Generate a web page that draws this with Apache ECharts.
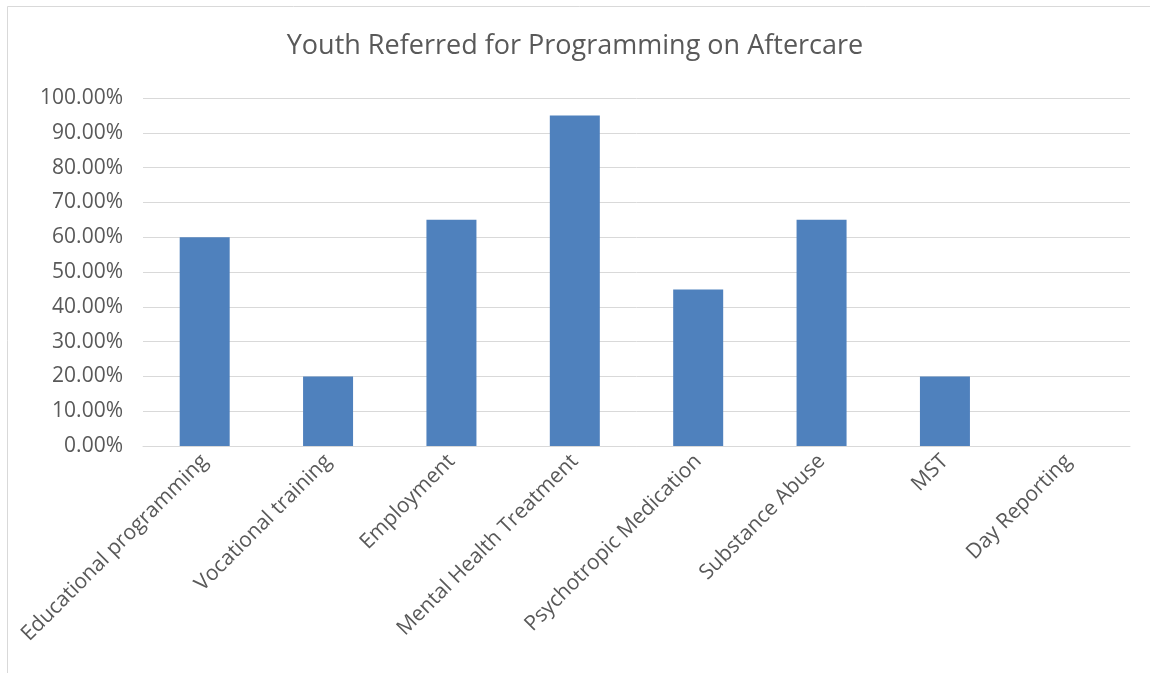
<!DOCTYPE html>
<html>
<head>
<meta charset="utf-8">
<script src="https://cdn.jsdelivr.net/npm/echarts@6/dist/echarts.min.js"></script>
<style>
html,body{margin:0;padding:0;background:#fff;}
#chart{width:1150px;height:673px;}
</style>
</head>
<body>
<div id="chart"></div>
<script>
const titleText = 'Youth Referred for Programming on Aftercare';
const categories = ['Educational programming','Vocational training','Employment','Mental Health Treatment','Psychotropic Medication','Substance Abuse','MST','Day Reporting'];
const values = [60, 20, 65, 95, 45, 65, 20, 0];

const chart = echarts.init(document.getElementById('chart'));
const font = '"Open Sans", "Noto Sans", sans-serif';
chart.setOption({
  backgroundColor: '#fff',
  animation: false,
  graphic: [{
    type: 'rect',
    shape: {x: 7.5, y: 6.5, width: 1200, height: 700},
    style: {fill: 'none', stroke: '#d9d9d9', lineWidth: 1},
    silent: true
  }],
  title: {
    text: titleText,
    left: 'center',
    top: 28,
    textStyle: {fontFamily: font, fontSize: 27, fontWeight: 'normal', color: '#595959'}
  },
  grid: {left: 143, right: 20, top: 98, bottom: 227, containLabel: false},
  xAxis: {
    type: 'category',
    data: categories,
    axisLine: {lineStyle: {color: '#d9d9d9', width: 1}},
    axisTick: {show: false},
    axisLabel: {rotate: 45, margin: 12, color: '#595959', fontFamily: font, fontSize: 21, interval: 0}
  },
  yAxis: {
    type: 'value',
    min: 0, max: 100, interval: 10,
    axisLine: {show: false},
    axisTick: {show: false},
    splitLine: {lineStyle: {color: '#d9d9d9', width: 1}},
    axisLabel: {margin: 20, color: '#595959', fontFamily: font, fontSize: 21,
      formatter: v => v.toFixed(2) + '%'}
  },
  series: [{
    type: 'bar',
    data: values,
    barWidth: 50,
    itemStyle: {color: '#4F81BD'}
  }]
});
</script>
</body>
</html>
